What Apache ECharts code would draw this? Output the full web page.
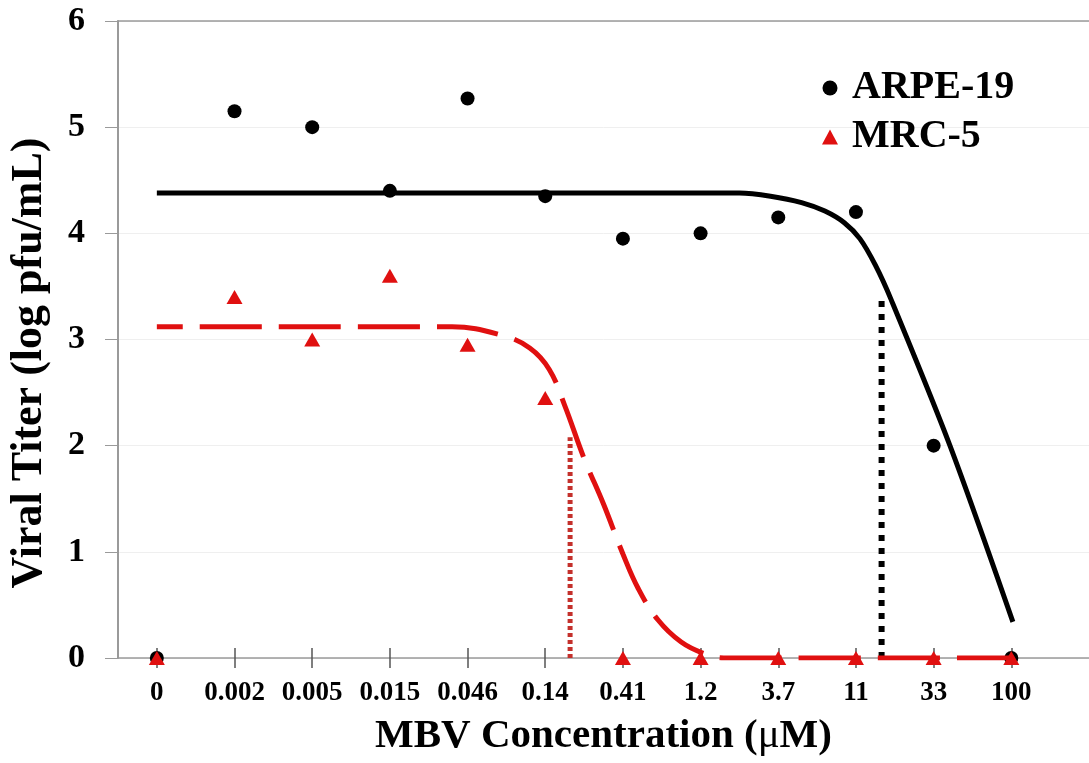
<!DOCTYPE html>
<html>
<head>
<meta charset="utf-8">
<script src="https://cdn.jsdelivr.net/npm/echarts@6/dist/echarts.min.js"></script>
<style>
  html, body { margin: 0; padding: 0; background: #ffffff; }
  #chart { width: 1089px; height: 763px; }
</style>
</head>
<body>
<div id="chart"></div>
<script>
// MBV concentrations (µM) shown as evenly spaced category positions
const categories = ['0', '0.002', '0.005', '0.015', '0.046', '0.14', '0.41', '1.2', '3.7', '11', '33', '100'];

// Measured viral titers (log pfu/mL)
const arpe19 = [0, 5.15, 5.0, 4.4, 5.27, 4.35, 3.95, 4.0, 4.15, 4.2, 2.0, 0];
const mrc5 = [0, 3.4, 3.0, 3.6, 2.95, 2.45, 0, 0, 0, 0, 0, 0];

// Fitted dose-response curves (x in category-index units)
const arpeFitX = [0, 7.5, 7.9, 8.3, 8.6, 8.85, 9.05, 9.25, 9.45, 10.21, 11.02];
const arpeFitY = [4.38, 4.38, 4.35, 4.29, 4.21, 4.1, 3.95, 3.7, 3.38, 2.0, 0.34];
const mrcFitX = [0, 3.8, 4.44, 4.8, 5.05, 5.25, 5.5, 5.75, 6.0, 6.2, 6.45, 6.75, 7.05, 7.3, 11.0];
const mrcFitY = [3.12, 3.12, 3.04, 2.92, 2.72, 2.38, 1.88, 1.45, 0.98, 0.65, 0.36, 0.15, 0.04, 0, 0];

// IC50 drop lines: position on x and height of the marker
const arpeIC50 = [9.33, 3.38];
const mrcIC50 = [5.32, 2.08];

const RED = '#e01010';
const FONT = '"Liberation Serif", "Times New Roman", serif';
const AXIS_GRAY = '#9a9a9a';

const idx = categories.map((c, i) => i);
const zip = (xs, ys) => xs.map((x, i) => [x, ys[i]]);

const chart = echarts.init(document.getElementById('chart'), null, { renderer: 'canvas' });

chart.setOption({
  animation: false,
  backgroundColor: '#ffffff',
  grid: { left: 118, right: 0, top: 21, bottom: 105, outerBoundsMode: 'none', containLabel: false },
  legend: {
    orient: 'vertical',
    left: 817,
    top: 63,
    itemWidth: 16,
    itemHeight: 15,
    itemGap: 9,
    data: ['ARPE-19', 'MRC-5'],
    textStyle: { fontFamily: FONT, fontWeight: 'bold', fontSize: 40, color: '#000', padding: [0, 0, 0, 9] }
  },
  xAxis: [
    {
      type: 'value', min: -0.5, max: 12, position: 'bottom',
      axisLine: { show: true, onZero: false, lineStyle: { color: AXIS_GRAY, width: 1.5 } },
      axisTick: { show: true, inside: true, length: 10, customValues: idx, lineStyle: { color: '#555', width: 1.5 } },
      axisLabel: {
        customValues: idx,
        formatter: v => categories[Math.round(v)],
        margin: 22,
        fontFamily: FONT, fontWeight: 'bold', fontSize: 27, color: '#000'
      },
      splitLine: { show: false },
      name: '{b|MBV Concentration (}{m|\u03bc}{b|M)}',
      nameLocation: 'middle',
      nameGap: 58,
      nameTextStyle: {
        rich: {
          b: { fontFamily: FONT, fontWeight: 'bold', fontSize: 41, color: '#000' },
          m: { fontFamily: FONT, fontWeight: 'normal', fontSize: 41, color: '#000' }
        }
      }
    },
    {
      type: 'value', min: -0.5, max: 12, position: 'bottom',
      axisLine: { show: false, onZero: false },
      axisTick: { show: true, inside: false, length: 10, customValues: idx, lineStyle: { color: '#555', width: 1.5 } },
      axisLabel: { show: false },
      splitLine: { show: false }
    },
    {
      type: 'value', min: -0.5, max: 12, position: 'top',
      axisLine: { show: true, onZero: false, lineStyle: { color: AXIS_GRAY, width: 1.5 } },
      axisTick: { show: false },
      axisLabel: { show: false },
      splitLine: { show: false }
    }
  ],
  yAxis: {
    type: 'value', min: 0, max: 6, interval: 1, position: 'left',
    axisLine: { show: true, onZero: false, lineStyle: { color: AXIS_GRAY, width: 2 } },
    axisTick: { show: true, inside: false, length: 13, lineStyle: { color: AXIS_GRAY, width: 1 } },
    axisLabel: { margin: 33, fontFamily: FONT, fontWeight: 'bold', fontSize: 34, color: '#000' },
    splitLine: { show: true, lineStyle: { color: '#efefef', width: 1 } }
  },
  graphic: [
    {
      type: 'text',
      x: 30, y: 363,
      rotation: Math.PI / 2,
      style: {
        text: 'Viral Titer (log pfu/mL)',
        fontFamily: FONT, fontWeight: 'bold', fontSize: 44, fill: '#000',
        align: 'center', verticalAlign: 'middle'
      }
    }
  ],
  series: [
    {
      name: 'ARPE-19 fit', type: 'line', xAxisIndex: 0,
      data: zip(arpeFitX, arpeFitY),
      smooth: 0.3, showSymbol: false, symbol: 'none',
      lineStyle: { color: '#000', width: 5 }, z: 2, silent: true
    },
    {
      name: 'ARPE-19 IC50', type: 'line', xAxisIndex: 0,
      data: [[arpeIC50[0], 0], [arpeIC50[0], arpeIC50[1]]],
      showSymbol: false, symbol: 'none',
      lineStyle: { color: '#000', width: 6, type: [6, 7], cap: 'butt' }, z: 2, silent: true
    },
    {
      name: 'MRC-5 IC50', type: 'line', xAxisIndex: 0,
      data: [[mrcIC50[0], 0], [mrcIC50[0], mrcIC50[1]]],
      showSymbol: false, symbol: 'none',
      lineStyle: { color: '#c4302b', width: 5, type: [4, 3], cap: 'butt' }, z: 2, silent: true
    },
    {
      name: 'ARPE-19', type: 'scatter', xAxisIndex: 0,
      data: zip(idx, arpe19),
      symbol: 'circle', symbolSize: 14,
      itemStyle: { color: '#000', opacity: 1 }, z: 3
    },
    {
      name: 'MRC-5 fit', type: 'line', xAxisIndex: 0,
      data: zip(mrcFitX, mrcFitY),
      smooth: 0.4, showSymbol: false, symbol: 'none',
      lineStyle: { color: RED, width: 5, type: [62, 17], dashOffset: 36, cap: 'butt' }, z: 4, silent: true
    },
    {
      name: 'MRC-5', type: 'scatter', xAxisIndex: 0,
      data: zip(idx, mrc5),
      symbol: 'triangle', symbolSize: [16, 14],
      itemStyle: { color: RED, opacity: 1 }, z: 5
    }
  ]
});
</script>
</body>
</html>
